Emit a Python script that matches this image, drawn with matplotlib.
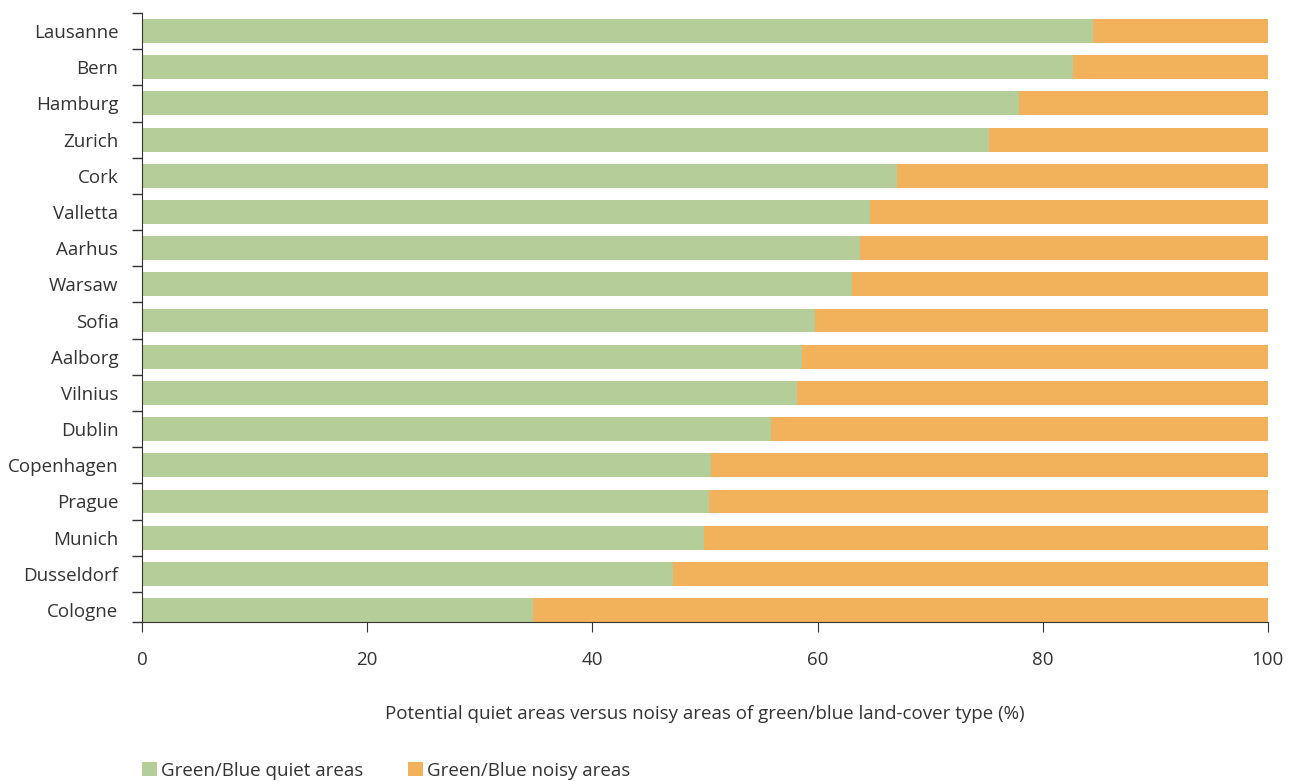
import numpy as np
import matplotlib
matplotlib.use("Agg")
import matplotlib.pyplot as plt

plt.rcParams["font.family"] = ["Open Sans", "DejaVu Sans"]
plt.rcParams["text.color"] = "#333333"

cities = ["Lausanne", "Bern", "Hamburg", "Zurich", "Cork", "Valletta", "Aarhus",
          "Warsaw", "Sofia", "Aalborg", "Vilnius", "Dublin", "Copenhagen", "Prague",
          "Munich", "Dusseldorf", "Cologne"]
quiet = [84.5, 82.7, 77.9, 75.2, 67.1, 64.7, 63.8, 63.1, 59.8, 58.6, 58.2, 55.9,
         50.5, 50.4, 49.9, 47.2, 34.7]
noisy = [100 - q for q in quiet]

GREEN, ORANGE, INK = "#b5cd99", "#f2b25c", "#333333"
FS = 13.5

fig = plt.figure(figsize=(12.95, 7.81), dpi=100)
ax = fig.add_axes([0.1097, 0.2036, 0.8693, 0.7798])
y = np.arange(len(cities))
ax.barh(y, quiet, height=0.66, color=GREEN, label="Green/Blue quiet areas")
ax.barh(y, noisy, left=quiet, height=0.66, color=ORANGE, label="Green/Blue noisy areas")

# last slot is slightly clipped by the x axis, as in the original
ybot = len(cities) - 0.67
ax.set_ylim(ybot, -0.5)
ax.set_xlim(0, 100)
ax.set_yticks(y)
ax.set_yticklabels(cities, fontsize=FS, color=INK)
ax.set_yticks(list(np.arange(len(cities)) - 0.5) + [ybot], minor=True)
ax.tick_params(axis="y", which="major", length=0, pad=17)
ax.tick_params(axis="y", which="minor", length=7, color=INK, width=1)
ax.set_xticks([0, 20, 40, 60, 80, 100])
ax.tick_params(axis="x", length=7, color=INK, labelsize=FS, labelcolor=INK, pad=14)
for s in ["top", "right"]:
    ax.spines[s].set_visible(False)
for s in ["left", "bottom"]:
    ax.spines[s].set_color(INK)
ax.set_xlabel("Potential quiet areas versus noisy areas of green/blue land-cover type (%)",
              fontsize=FS, color=INK, labelpad=26)

fig.legend(loc="lower left", bbox_to_anchor=(0.097, -0.02), ncol=2, frameon=False,
           fontsize=FS, handlelength=0.75, handleheight=0.75, handletextpad=0.25,
           columnspacing=2.4)
fig.savefig("out.png", dpi=100)
